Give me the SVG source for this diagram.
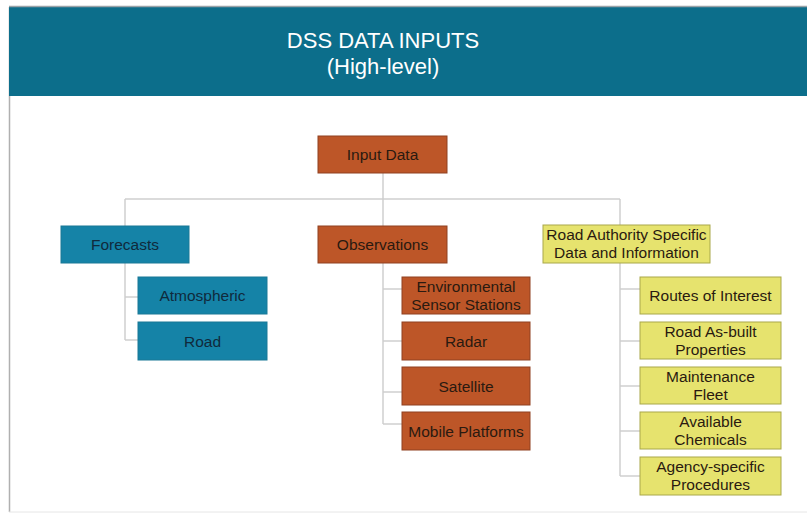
<svg xmlns="http://www.w3.org/2000/svg" width="807" height="516" viewBox="0 0 807 516">
<style>
  .t{font-family:"Liberation Sans",Arial,sans-serif;font-size:15.5px;text-anchor:middle;fill:#2a1a10}
  .teal{fill:#1583a7;stroke:#1a7896;stroke-width:1}
  .org{fill:#bd5628;stroke:#8f4020;stroke-width:1}
  .yel{fill:#e6e36e;stroke:#a9a84a;stroke-width:1}
  .c{fill:none;stroke:#cfcfcf;stroke-width:1.5}
  .tt{fill:#102a3c}
</style>
<rect width="807" height="516" fill="#ffffff"/>
<line x1="9.5" y1="7" x2="9.5" y2="512" stroke="#b0b0b0" stroke-width="1.5"/>
<line x1="9" y1="512" x2="807" y2="512" stroke="#e6e6e6" stroke-width="1"/>
<rect x="9" y="7" width="798" height="89" fill="#0c6e8b"/>
<line x1="9" y1="6.5" x2="807" y2="6.5" stroke="#9aa3a8" stroke-width="1.5"/>
<text x="383" y="48" font-family="Liberation Sans,Arial,sans-serif" font-size="22" text-anchor="middle" fill="#ffffff">DSS DATA INPUTS</text>
<text x="383" y="74" font-family="Liberation Sans,Arial,sans-serif" font-size="22" text-anchor="middle" fill="#ffffff">(High-level)</text>
<g id="connectors" class="c">
  <path d="M383 173V226M125 199H620M125 199V226M620 199V225"/>
  <path d="M125 263V340M125 297H138M125 340H138"/>
  <path d="M383 263V424M383 289H402M383 341H402M383 392H402M383 424H402"/>
  <path d="M620 263V476M620 289H640M620 341H640M620 386H640M620 431H640M620 476H640"/>
</g>
<g id="input-data"><rect class="org" x="318" y="136" width="129" height="37"/><text class="t" x="382.5" y="160">Input Data</text></g>
<g id="forecasts"><rect class="teal" x="61" y="226" width="128" height="37"/><text class="t tt" x="125" y="250">Forecasts</text></g>
<g id="atmospheric"><rect class="teal" x="138" y="277" width="129" height="37"/><text class="t tt" x="202.5" y="301">Atmospheric</text></g>
<g id="road"><rect class="teal" x="138" y="322" width="129" height="38"/><text class="t tt" x="202.5" y="346.5">Road</text></g>
<g id="observations"><rect class="org" x="318" y="226" width="129" height="37"/><text class="t" x="382.5" y="250">Observations</text></g>
<g id="ess"><rect class="org" x="402" y="277" width="128" height="37"/><text class="t" x="466" y="292">Environmental</text><text class="t" x="466" y="310">Sensor Stations</text></g>
<g id="radar"><rect class="org" x="402" y="322" width="128" height="38"/><text class="t" x="466" y="346.5">Radar</text></g>
<g id="satellite"><rect class="org" x="402" y="367" width="128" height="38"/><text class="t" x="466" y="391.5">Satellite</text></g>
<g id="mobile"><rect class="org" x="402" y="412" width="128" height="38"/><text class="t" x="466" y="436.5">Mobile Platforms</text></g>
<g id="road-authority"><rect class="yel" x="543" y="225" width="167" height="38"/><text class="t" x="626.5" y="240">Road Authority Specific</text><text class="t" x="626.5" y="258">Data and Information</text></g>
<g id="routes"><rect class="yel" x="640" y="277" width="141" height="37"/><text class="t" x="710.5" y="301">Routes of Interest</text></g>
<g id="asbuilt"><rect class="yel" x="640" y="322" width="141" height="37"/><text class="t" x="710.5" y="337">Road As-built</text><text class="t" x="710.5" y="355">Properties</text></g>
<g id="fleet"><rect class="yel" x="640" y="367" width="141" height="37"/><text class="t" x="710.5" y="382">Maintenance</text><text class="t" x="710.5" y="400">Fleet</text></g>
<g id="chemicals"><rect class="yel" x="640" y="412" width="141" height="37"/><text class="t" x="710.5" y="427">Available</text><text class="t" x="710.5" y="445">Chemicals</text></g>
<g id="procedures"><rect class="yel" x="640" y="457" width="141" height="38"/><text class="t" x="710.5" y="472">Agency-specific</text><text class="t" x="710.5" y="490">Procedures</text></g>
</svg>
